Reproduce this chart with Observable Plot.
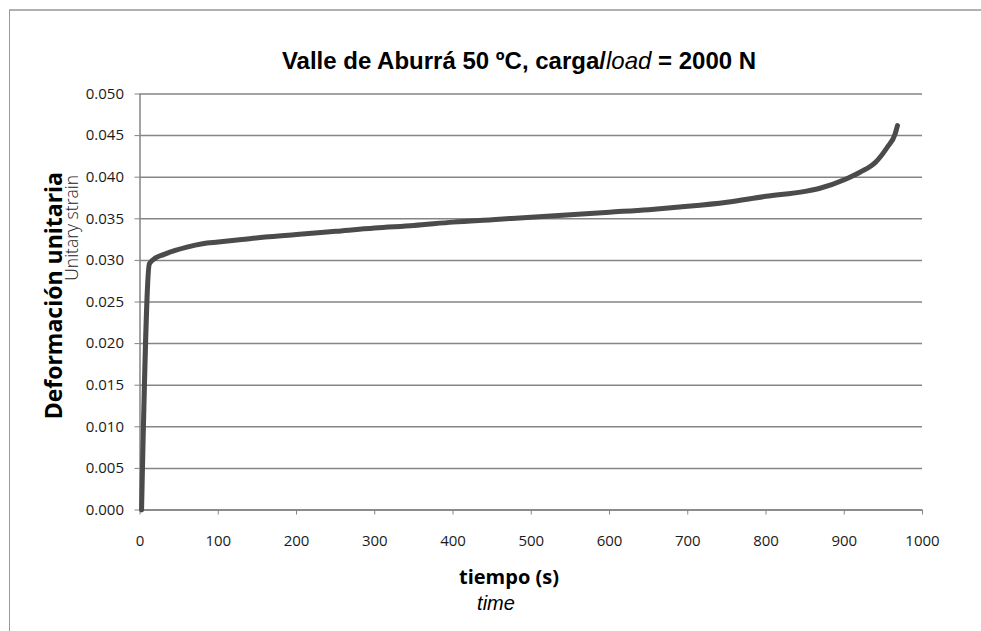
<!DOCTYPE html>
<html>
<head>
<meta charset="utf-8">
<script src="https://cdn.jsdelivr.net/npm/d3@7"></script>
<script src="https://cdn.jsdelivr.net/npm/@observablehq/plot@0.6"></script>
<style>
  html, body { margin: 0; padding: 0; background: #fff; overflow: hidden; }
  #wrap { position: relative; width: 981px; height: 631px; }
  #frame { position: absolute; left: 9px; top: 9px; width: 1200px; height: 1000px;
           border-left: 1px solid #9a9a9a; border-top: 2px solid #b0b0b0; box-sizing: border-box; }
</style>
</head>
<body>
<div id="wrap"><div id="frame"></div></div>
<script>
// time (s)
const tiempo = [2, 12, 20, 30, 45, 60, 80, 100, 130, 160, 200, 250, 300, 350, 400, 450, 500, 550, 600, 650, 700, 750, 800, 850, 870, 900, 920, 940, 955, 965, 968];
// unitary strain
const deformacion = [0.0000, 0.0296, 0.0303, 0.0307, 0.0312, 0.0316, 0.0320, 0.0322, 0.0325, 0.0328, 0.0331, 0.0335, 0.0339, 0.0342, 0.0346, 0.0349, 0.0352, 0.0355, 0.0358, 0.0361, 0.0365, 0.0370, 0.0377, 0.0383, 0.0387, 0.0397, 0.0406, 0.0418, 0.0436, 0.0452, 0.0462];
const xTicks = [0, 100, 200, 300, 400, 500, 600, 700, 800, 900, 1000];
const yTicks = [0, 0.005, 0.010, 0.015, 0.020, 0.025, 0.030, 0.035, 0.040, 0.045, 0.050];

const data = tiempo.map((t, i) => ({t, e: deformacion[i]}));

const plot = Plot.plot({
  width: 981,
  height: 631,
  marginLeft: 139.5,
  marginRight: 59,
  marginTop: 93.5,
  marginBottom: 121.5,
  style: {fontFamily: "'Open Sans', sans-serif", background: "transparent", color: "#1a1a1a"},
  x: {domain: [0, 1000]},
  y: {domain: [0, 0.05]},
  marks: [
    Plot.gridY(yTicks, {stroke: "#858585", strokeOpacity: 1, strokeWidth: 1.5}),
    Plot.ruleX([0], {stroke: "#858585", strokeWidth: 1.5}),
    Plot.ruleY([0], {stroke: "#858585", strokeWidth: 1.5}),
    Plot.axisY(yTicks, {tickFormat: d3.format(".3f"), tickSize: 5, tickPadding: 11, fontSize: 15, stroke: "#858585", label: null}),
    Plot.axisX(xTicks, {tickFormat: d3.format("d"), tickSize: 5, tickPadding: 20, fontSize: 15, stroke: "#858585", label: null}),
    Plot.line(data, {x: "t", y: "e", stroke: "#4b4b4b", strokeWidth: 5, curve: "monotone-x", strokeLinejoin: "round", strokeLinecap: "round"})
  ]
});
plot.style.position = "absolute";
plot.style.left = "0px";
plot.style.top = "0px";
document.getElementById("wrap").appendChild(plot);

const svg = d3.select(plot);
const title = svg.append("text")
  .attr("x", 519).attr("y", 69)
  .attr("text-anchor", "middle")
  .style("font-family", "'Liberation Sans', Arial, sans-serif")
  .style("font-size", "24px")
  .style("fill", "#000");
title.append("tspan").style("font-weight", "bold").text("Valle de Aburrá 50 ºC, carga/");
title.append("tspan").style("font-style", "italic").style("font-weight", "300").text("load");
title.append("tspan").style("font-weight", "bold").text(" = 2000 N");

svg.append("text")
  .attr("transform", "translate(62,172) rotate(-90)")
  .attr("text-anchor", "end")
  .style("font-family", "'Open Sans', sans-serif")
  .style("font-weight", "bold")
  .style("font-size", "23px")
  .style("fill", "#000")
  .text("Deformación unitaria");
svg.append("text")
  .attr("transform", "translate(78,175) rotate(-90)")
  .attr("text-anchor", "end")
  .style("font-family", "'Open Sans', sans-serif")
  .style("font-weight", "300")
  .style("font-size", "17.5px")
  .style("fill", "#222")
  .text("Unitary strain");

svg.append("text")
  .attr("x", 509).attr("y", 584)
  .attr("text-anchor", "middle")
  .style("font-family", "'Open Sans', sans-serif")
  .style("font-weight", "bold")
  .style("font-size", "20px")
  .style("fill", "#000")
  .text("tiempo (s)");
svg.append("text")
  .attr("x", 496).attr("y", 610)
  .attr("text-anchor", "middle")
  .style("font-family", "'Liberation Sans', Arial, sans-serif")
  .style("font-style", "italic")
  .style("font-size", "20px")
  .style("fill", "#000")
  .text("time");
</script>
</body>
</html>
